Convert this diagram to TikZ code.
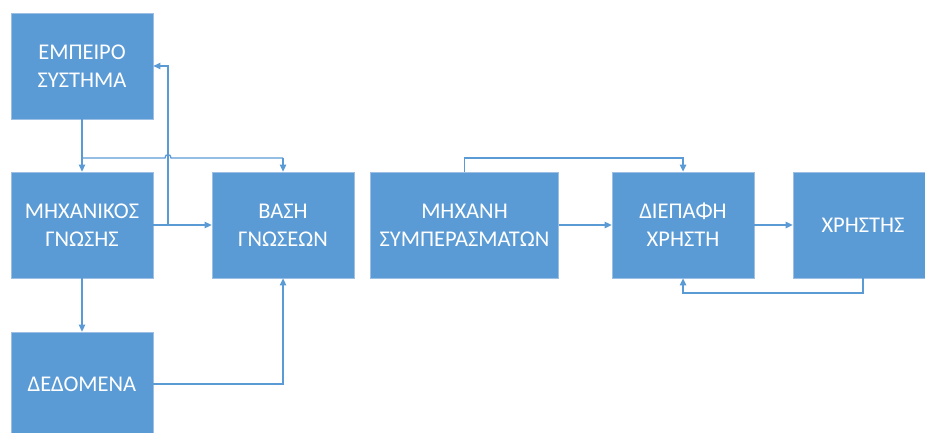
\documentclass[tikz,border=0pt]{standalone}
\usepackage{fontspec}
\setmainfont{Carlito}
\usetikzlibrary{arrows.meta}
\definecolor{boxblue}{HTML}{5B9BD5}
\definecolor{boxedge}{HTML}{9DBFE3}
\definecolor{linkblue}{HTML}{5B9BD5}
\begin{document}
\begin{tikzpicture}[x=1pt,y=-1pt,
  blk/.style={fill=boxblue,draw=boxedge,line width=0.8pt,text=white,
    align=center,inner sep=0pt,minimum height=106pt,
    font=\fontsize{22.5}{28}\selectfont},
  conn/.style={draw=linkblue,line width=1.3pt},
  arr/.style={conn,-{Triangle[length=7pt,width=6.5pt]}}]
\useasboundingbox (0,0) rectangle (925,433);
\node[blk,minimum width=142pt] (emp) at (82,66) {ΕΜΠΕΙΡΟ\\ΣΥΣΤΗΜΑ};
\node[blk,minimum width=142pt] (mech) at (82,225) {ΜΗΧΑΝΙΚΟΣ\\ΓΝΩΣΗΣ};
\node[blk,minimum width=142pt,minimum height=104pt] (data) at (82,384) {ΔΕΔΟΜΕΝΑ};
\node[blk,minimum width=142pt] (base) at (283,225) {ΒΑΣΗ\\ΓΝΩΣΕΩΝ};
\node[blk,minimum width=188pt] (inf) at (464.5,225) {ΜΗΧΑΝΗ\\ΣΥΜΠΕΡΑΣΜΑΤΩΝ};
\node[blk,minimum width=142pt] (ui) at (683,225) {ΔΙΕΠΑΦΗ\\ΧΡΗΣΤΗ};
\node[blk,minimum width=140pt] (user) at (863,225) {ΧΡΗΣΤΗΣ};
\coordinate (bus) at (0,158);
\coordinate (vx) at (168,0);
\coordinate (low) at (0,293);
% empeiro -> mechanikos and -> vasi
\draw[arr] (emp.south) -- (mech.north);
\draw[conn] (emp.south |- bus) -- (165,158) .. controls (165,153.5) and (171,153.5) .. (171,158) -- (base.north |- bus);
\draw[arr] (base.north |- bus) -- (base.north);
% mechanikos -> vasi, and back to empeiro
\draw[arr] (mech.east) -- (base.west);
\draw[arr] (mech.east -| vx) -- (vx |- emp.east) -- (emp.east);
% mechanikos -> dedomena
\draw[arr] (mech.south) -- (data.north);
% dedomena -> vasi
\draw[arr] (data.east) -- (base.south |- data.east) -- (base.south);
% mixani -> diepafi
\draw[arr] (inf.east) -- (ui.west);
\draw[arr] (inf.north) -- (inf.north |- bus) -- (ui.north |- bus) -- (ui.north);
% diepafi -> xristis
\draw[arr] (ui.east) -- (user.west);
\draw[arr] (user.south) -- (user.south |- low) -- (ui.south |- low) -- (ui.south);
\end{tikzpicture}
\end{document}
